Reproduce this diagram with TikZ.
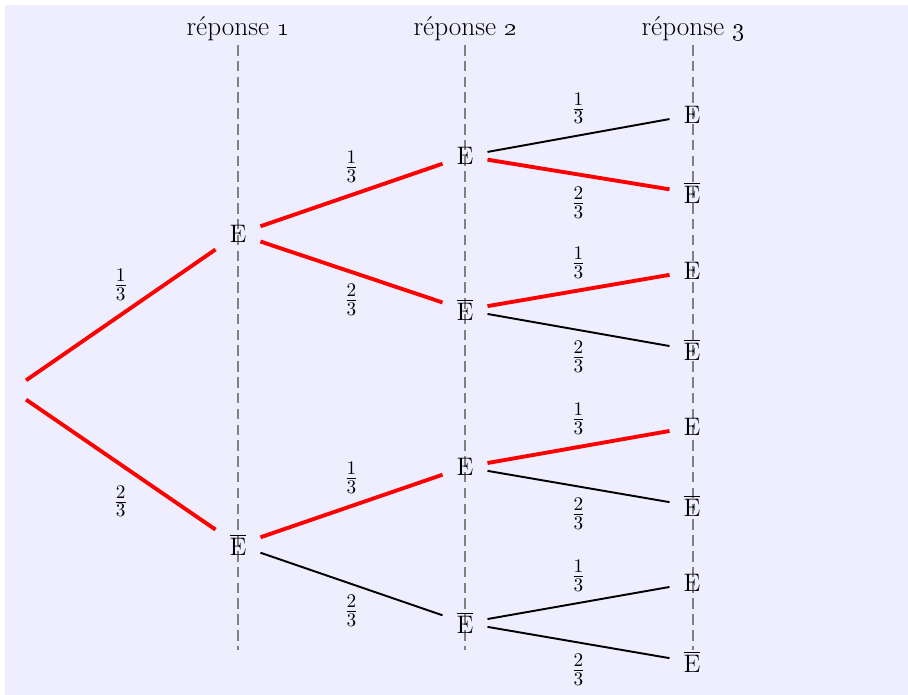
\documentclass[tikz,border=0pt]{standalone}
\definecolor{bgc}{RGB}{238,238,255}
\definecolor{guidegray}{RGB}{128,128,128}
\begin{document}
\begin{tikzpicture}[x=0.02cm,y=-0.02cm,
  every node/.style={font=\fontsize{15.5}{18}\selectfont},
  st/.style={inner sep=7.8pt},
  lab/.style={inner sep=2pt},
  rededge/.style={draw=red,line width=2.2pt},
  blkedge/.style={draw=black,line width=1.1pt},
  guide/.style={draw=guidegray,line width=1.2pt,dash pattern=on 6pt off 3pt}]
\useasboundingbox (0,0) rectangle (908,695);
\fill[bgc] (5,5) rectangle (908,695);
% headers
\node (h1) at (238,29) {réponse \oldstylenums{1}};
\node (h2) at (465,29) {réponse \oldstylenums{2}};
\node (h3) at (693,29) {réponse \oldstylenums{3}};
% guides
\coordinate (t1) at (238,45); \coordinate (b1) at (238,650);
\coordinate (t2) at (465,45); \coordinate (b2) at (465,650);
\coordinate (t3) at (693,45); \coordinate (b3) at (693,650);
\draw[guide] (t1) -- (b1);
\draw[guide] (t2) -- (b2);
\draw[guide] (t3) -- (b3);
% nodes
\node[st] (r) at (12,390) {};
\node[st] (a1) at (238,234) {$\mathrm{E}$};
\node[st] (a2) at (238,545) {$\overline{\mathrm{E}}$};
\node[st] (b11) at (465,156) {$\mathrm{E}$};
\node[st] (b12) at (465,310) {$\overline{\mathrm{E}}$};
\node[st] (b21) at (465,467) {$\mathrm{E}$};
\node[st] (b22) at (465,623) {$\overline{\mathrm{E}}$};
\node[st] (c1) at (692,115) {$\mathrm{E}$};
\node[st] (c2) at (692,193) {$\overline{\mathrm{E}}$};
\node[st] (c3) at (692,271) {$\mathrm{E}$};
\node[st] (c4) at (692,350) {$\overline{\mathrm{E}}$};
\node[st] (c5) at (692,427) {$\mathrm{E}$};
\node[st] (c6) at (692,506) {$\overline{\mathrm{E}}$};
\node[st] (c7) at (692,583) {$\mathrm{E}$};
\node[st] (c8) at (692,662) {$\overline{\mathrm{E}}$};
% edges
\draw[rededge] (r) -- node[lab,above=5pt] {$\frac{1}{3}$} (a1);
\draw[rededge] (r) -- node[lab,below=9pt] {$\frac{2}{3}$} (a2);
\draw[rededge] (a1) -- node[lab,above=4pt] {$\frac{1}{3}$} (b11);
\draw[rededge] (a1) -- node[lab,below=4pt] {$\frac{2}{3}$} (b12);
\draw[rededge] (a2) -- node[lab,above=4pt] {$\frac{1}{3}$} (b21);
\draw[blkedge] (a2) -- node[lab,below=4pt] {$\frac{2}{3}$} (b22);
\draw[blkedge] (b11) -- node[lab,above=4pt] {$\frac{1}{3}$} (c1);
\draw[rededge] (b11) -- node[lab,below=4pt] {$\frac{2}{3}$} (c2);
\draw[rededge] (b12) -- node[lab,above=4pt] {$\frac{1}{3}$} (c3);
\draw[blkedge] (b12) -- node[lab,below=4pt] {$\frac{2}{3}$} (c4);
\draw[rededge] (b21) -- node[lab,above=4pt] {$\frac{1}{3}$} (c5);
\draw[blkedge] (b21) -- node[lab,below=4pt] {$\frac{2}{3}$} (c6);
\draw[blkedge] (b22) -- node[lab,above=4pt] {$\frac{1}{3}$} (c7);
\draw[blkedge] (b22) -- node[lab,below=4pt] {$\frac{2}{3}$} (c8);
\end{tikzpicture}
\end{document}
